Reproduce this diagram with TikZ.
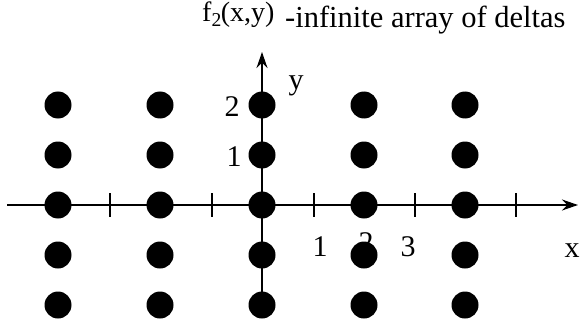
\documentclass[tikz,border=0pt]{standalone}
\usepackage{fontspec}
\setmainfont{Liberation Serif}
\usetikzlibrary{arrows.meta}

\begin{document}
\begin{tikzpicture}[x=1pt, y=-1pt,
  delta/.style={circle, fill=black, inner sep=0pt, minimum size=27pt},
  axis/.style={-{Stealth[length=16pt, width=11pt]}, line width=1.6pt},
  tickmark/.style={line width=1.6pt},
  numlab/.style={inner sep=0pt, font=\fontsize{30}{32}\selectfont},
  title/.style={inner sep=0pt, anchor=base west}
]
\useasboundingbox (0,0) rectangle (580,326);

% axes
\coordinate (xl) at (7,205);
\coordinate (xr) at (578,205);
\coordinate (yb) at (262,305);
\coordinate (yt) at (262,52);
\draw[axis] (xl) -- (xr);
\draw[axis] (yb) -- (yt);
\foreach \t in {110,212,314,415,516} \draw[tickmark] (\t,193) -- (\t,217);

% labels
\node[numlab] (lx1) at (320,247) {1};
\node[numlab] (lx2) at (366,243) {2};
\node[numlab] (lx3) at (408,247) {3};
\node[numlab] (lxx) at (572,251) {x};
\node[numlab] (lyy) at (296,86) {y};
\node[numlab] (ly2) at (232,107) {2};
\node[numlab] (ly1) at (234,157) {1};

% deltas
\foreach \i/\x in {1/58,2/160,3/262,4/364,5/465}
  \foreach \j/\y in {1/105,2/155,3/205,4/255,5/305}
    \node[delta] (d\i\j) at (\x,\y) {};

% title
\node[title, font=\fontsize{28}{30}\selectfont] (fname) at (202,22) {f\textsubscript{2}\kern-1pt(x,y)};
\node[title, font=\fontsize{30.5}{32}\selectfont] (caption) at (285,28) {-infinite array of deltas};
\end{tikzpicture}
\end{document}
